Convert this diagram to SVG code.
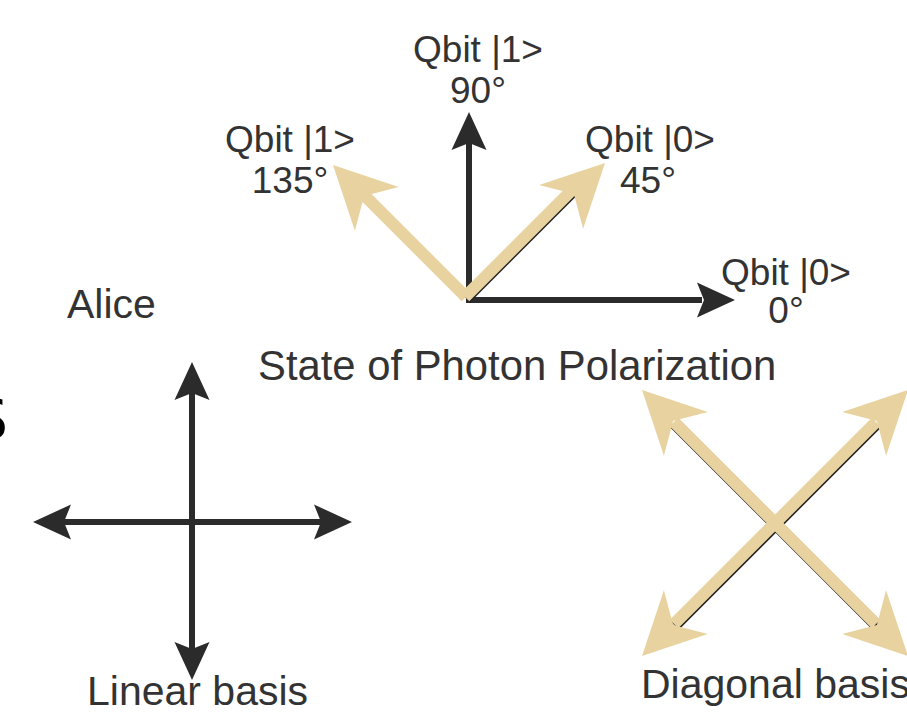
<svg xmlns="http://www.w3.org/2000/svg" xmlns:xlink="http://www.w3.org/1999/xlink" width="907" height="716" viewBox="0 0 907 716">
<style>
.lbl{font-family:"Liberation Sans",Arial,sans-serif;fill:#333333;}
.q{font-size:37px;text-anchor:middle;}
.big{font-size:41px;}
.blk{stroke:#2b2b2b;stroke-width:6;fill:none;}
.tan{stroke:#e8d3a0;stroke-width:12;fill:none;}
.sh{stroke:#222222;stroke-width:12;fill:none;}
.hb{fill:#2b2b2b;}
.ht{fill:#e8d3a0;}
</style>
<defs>
<path id="headB" d="M0,0 L-38,-17.5 L-31,0 L-38,17.5 Z"/>
<path id="headT" d="M0,0 L-62,-31 L-44,0 L-62,31 Z"/>
</defs>
<rect width="907" height="716" fill="#ffffff"/>
<text x="-27" y="438" style="font-family:'DejaVu Sans',sans-serif;font-size:55px;fill:#000">S</text>
<g id="connectors">
  <g id="top-arrows">
    <line class="blk" x1="466" y1="300" x2="702" y2="300"/>
    <use href="#headB" class="hb" transform="translate(735,300)"/>
    <line class="blk" x1="469" y1="303" x2="469" y2="143"/>
    <use href="#headB" class="hb" transform="translate(469,112) rotate(-90)"/>
    <line class="sh" x1="465.8" y1="298.2" x2="573.8" y2="190.2"/>
    <line class="tan" x1="465" y1="297" x2="573" y2="189"/>
    <use href="#headT" class="ht" transform="translate(605,163) rotate(-45)"/>
    <line class="tan" x1="466" y1="297" x2="364" y2="195"/>
    <use href="#headT" class="ht" transform="translate(333,165) rotate(-135)"/>
  </g>
  <g id="linear-arrows">
    <line class="blk" x1="192" y1="393" x2="192" y2="650"/>
    <use href="#headB" class="hb" transform="translate(192,362) rotate(-90)"/>
    <use href="#headB" class="hb" transform="translate(192,680) rotate(90)"/>
    <line class="blk" x1="64" y1="522" x2="321" y2="522"/>
    <use href="#headB" class="hb" transform="translate(33,522) rotate(180)"/>
    <use href="#headB" class="hb" transform="translate(352,522)"/>
  </g>
  <g id="diagonal-arrows">
    <line class="sh" x1="674.7" y1="423.5" x2="876.7" y2="625.5"/>
    <line class="sh" x1="674.7" y1="625.5" x2="876.7" y2="423.5"/>
    <line class="tan" x1="674" y1="422" x2="876" y2="624"/>
    <line class="tan" x1="674" y1="624" x2="876" y2="422"/>
    <use href="#headT" class="ht" transform="translate(642,390) rotate(-135)"/>
    <use href="#headT" class="ht" transform="translate(908,390) rotate(-45)"/>
    <use href="#headT" class="ht" transform="translate(642,656) rotate(135)"/>
    <use href="#headT" class="ht" transform="translate(908,656) rotate(45)"/>
  </g>
</g>
<g id="label-q90"><text class="lbl q" x="478" y="62">Qbit |1&gt;</text><text class="lbl q" x="478" y="103">90°</text></g>
<g id="label-q135"><text class="lbl q" x="290" y="152">Qbit |1&gt;</text><text class="lbl q" x="290" y="193">135°</text></g>
<g id="label-q45"><text class="lbl q" x="650" y="152">Qbit |0&gt;</text><text class="lbl q" x="648" y="193">45°</text></g>
<g id="label-q0"><text class="lbl q" x="786" y="285">Qbit |0&gt;</text><text class="lbl q" x="786" y="323">0°</text></g>
<g id="alice"><text class="lbl big" x="67" y="318">Alice</text></g>
<g id="state"><text class="lbl big" x="258" y="380" style="font-size:41.8px">State of Photon Polarization</text></g>
<g id="linear"><text class="lbl big" x="87" y="705">Linear basis</text></g>
<g id="diagonal"><text class="lbl big" x="641" y="698">Diagonal basis</text></g>
</svg>
